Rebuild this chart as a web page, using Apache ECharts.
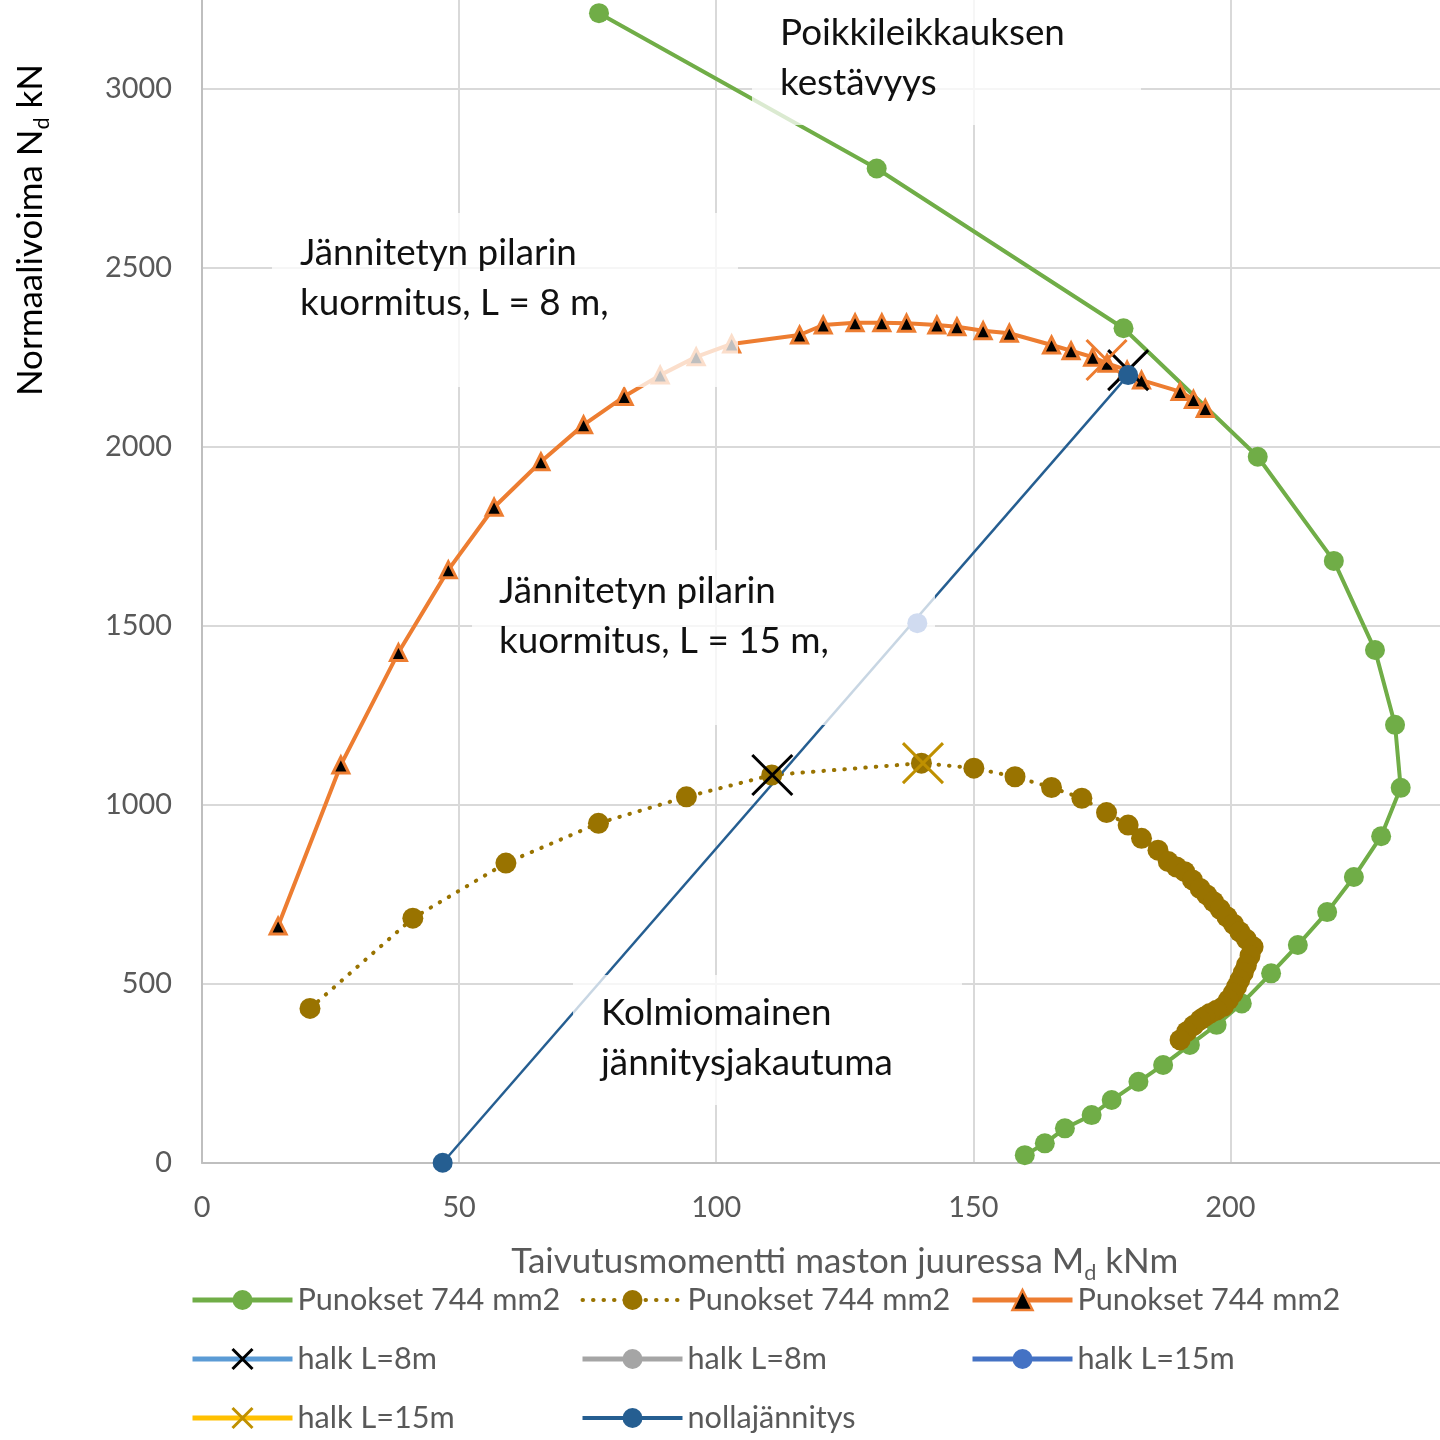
<!DOCTYPE html>
<html>
<head>
<meta charset="utf-8">
<script src="https://cdn.jsdelivr.net/npm/echarts@6/dist/echarts.min.js"></script>
<style>
  html, body { margin: 0; padding: 0; background: #ffffff; }
  #chart { width: 1440px; height: 1440px; }
</style>
</head>
<body>
<div id="chart"></div>
<script>
// Cross-section resistance curve (M, N)
const greenM = [77.2, 131.2, 179.2, 205.3, 220.1, 228.1, 232.0, 233.1, 229.3, 224.0, 218.8, 213.1, 207.9, 202.2, 197.3, 192.1, 186.9, 182.1, 176.9, 173.0, 167.8, 163.9, 160.0];
const greenN = [3211, 2777, 2331, 1972, 1681, 1432, 1223, 1047, 912, 798, 700, 608, 529, 445, 385, 329, 273, 226, 175, 133, 96, 54, 21];

// Prestressed column loading, L = 15 m
const brownM = [21.0, 41.0, 59.1, 77.1, 94.2, 110.8, 139.9, 150.1, 158.1, 165.2, 171.1, 175.9, 180.1, 182.7, 185.9, 187.9, 189.5, 191.1, 192.6, 194.1, 195.4, 196.7, 198.0, 199.3, 200.6, 201.8, 203.1, 204.4, 203.8, 203.1, 202.5, 201.8, 201.2, 200.5, 199.6, 198.6, 197.3, 196.0, 195.0, 194.1, 192.8, 191.5, 190.2];
const brownN = [431, 683, 837, 948, 1022, 1083, 1116, 1102, 1078, 1048, 1018, 978, 943, 906, 873, 841, 826, 813, 790, 766, 748, 729, 708, 687, 666, 645, 624, 603, 578, 552, 531, 510, 492, 473, 455, 436, 426, 417, 408, 399, 383, 366, 343];

// Prestressed column loading, L = 8 m
const orangeM = [14.8, 27.0, 38.2, 47.9, 56.8, 65.9, 74.2, 82.1, 89.1, 96.1, 103.0, 116.2, 120.8, 127.0, 132.2, 137.0, 142.9, 146.8, 151.9, 157.0, 165.2, 169.0, 173.2, 176.0, 179.9, 182.7, 190.2, 192.8, 195.1];
const orangeN = [661, 1111, 1425, 1656, 1831, 1958, 2061, 2140, 2200, 2251, 2287, 2312, 2340, 2346, 2346, 2345, 2340, 2335, 2324, 2317, 2284, 2268, 2250, 2233, 2214, 2186, 2154, 2132, 2107];

// Buckling points
const halk8M = [180.1, 110.9];
const halk8N = [2214, 1083];
const halk8GreyM = [];
const halk8GreyN = [];
const halk15BlueM = [139.1];
const halk15BlueN = [1507];
const halk15GoldM = [140.2];
const halk15GoldN = [1116];
const halk8OrangeM = [175.9];
const halk8OrangeN = [2242];

// Zero-stress line
const nollaM = [46.8, 180.1];
const nollaN = [0, 2200];

// Axis ticks
const xTicks = { min: 0, max: 250, step: 50 };
const yTicks = { min: 0, max: 3500, step: 500 };

const LABELS = {
  pA: 'Punokset 744 mm2',
  pB: 'Punokset 744 mm2',
  pC: 'Punokset 744 mm2',
  h8a: 'halk L=8m',
  h8b: 'halk L=8m',
  h15a: 'halk L=15m',
  h15b: 'halk L=15m',
  nolla: 'nollajännitys'
};

const FONT = 'Lato';
const meas = document.createElement('canvas').getContext('2d');
function fitSize(text, width) {
  meas.font = '100px ' + FONT;
  return 100 * width / meas.measureText(text).width;
}
const tickSize = fitSize('3000', 67);
const legendSize = fitSize('Punokset 744 mm2', 263);
const noteSize = fitSize('Poikkileikkauksen', 285);
const titleSize = fitSize('Taivutusmomentti maston juuressa M kNm', 655);

const GREY_TEXT = '#595959';
const X_PATH = 'path://M0,0L10,10M10,0L0,10';

function pts(xs, ys) { return xs.map((x, i) => [x, ys[i]]); }

const titleRich = {
  a: { fontSize: titleSize, fontFamily: FONT, color: GREY_TEXT, lineHeight: 44 },
  s: { fontSize: titleSize * 0.62, fontFamily: FONT, color: GREY_TEXT, lineHeight: 20, verticalAlign: 'bottom' }
};

const chart = echarts.init(document.getElementById('chart'), null, { renderer: 'canvas' });

const legendBase = {
  orient: 'vertical',
  top: 1278,
  height: 200,
  padding: 0,
  itemWidth: 100,
  itemHeight: 25,
  itemGap: 15,
  selectedMode: false,
  formatter: n => LABELS[n],
  textStyle: { fontSize: legendSize, color: GREY_TEXT, fontFamily: FONT, lineHeight: 44 },
  lineStyle: { width: 5 }
};

function note(x, y, text) {
  return {
    type: 'text', x: x, y: y, z: 51, silent: true,
    style: { text: text, fontSize: noteSize, fontFamily: FONT, fill: '#111111', lineHeight: 50, verticalAlign: 'top' }
  };
}
function veil(x, y, w, h) {
  return { type: 'rect', z: 50, silent: true, shape: { x: x, y: y, width: w, height: h }, style: { fill: 'rgba(255,255,255,0.75)' } };
}

const option = {
  animation: false,
  backgroundColor: '#ffffff',
  grid: { left: 202, right: -47.6, top: -90.3, bottom: 277.3, outerBoundsMode: 'none', containLabel: false },
  xAxis: {
    type: 'value', min: xTicks.min, max: xTicks.max, interval: xTicks.step,
    axisLine: { show: true, lineStyle: { color: '#bfbfbf', width: 2 } },
    axisTick: { show: false },
    splitLine: { show: true, lineStyle: { color: '#d9d9d9', width: 2 } },
    axisLabel: { fontSize: tickSize, color: GREY_TEXT, fontFamily: FONT, margin: 30, formatter: v => String(v) },
    name: '{a|Taivutusmomentti maston juuressa M}{s|d}{a| kNm}',
    nameLocation: 'middle', nameGap: 77,
    nameTextStyle: { rich: titleRich }
  },
  yAxis: {
    type: 'value', min: yTicks.min, max: yTicks.max, interval: yTicks.step,
    axisLine: { show: true, lineStyle: { color: '#bfbfbf', width: 2 } },
    axisTick: { show: false },
    splitLine: { show: true, lineStyle: { color: '#d9d9d9', width: 2 } },
    axisLabel: { fontSize: tickSize, color: GREY_TEXT, fontFamily: FONT, margin: 30, formatter: v => String(v) }
  },
  legend: [
    Object.assign({}, legendBase, { left: 190, data: [
      { name: 'pA' },
      { name: 'h8a', itemStyle: { borderWidth: 3 } },
      { name: 'h15b', itemStyle: { borderWidth: 3 } }
    ] }),
    Object.assign({}, legendBase, { left: 580, data: [
      { name: 'pB', lineStyle: { width: 4 } },
      { name: 'h8b' },
      { name: 'nolla', lineStyle: { width: 4 } }
    ] }),
    Object.assign({}, legendBase, { left: 970, data: [
      { name: 'pC', itemStyle: { borderWidth: 2.5 } },
      { name: 'h15a' }
    ] })
  ],
  graphic: [
    veil(752, -10, 389, 135),
    veil(272, 213, 466, 174),
    veil(472, 550, 463, 175),
    veil(573, 975, 389, 130),
    note(780, 8, 'Poikkileikkauksen\nkestävyys'),
    note(300, 228, 'Jännitetyn pilarin\nkuormitus, L = 8 m,'),
    note(499, 566, 'Jännitetyn pilarin\nkuormitus, L = 15 m,'),
    note(601, 988, 'Kolmiomainen\njännitysjakautuma'),
    {
      type: 'text', x: 31, y: 230, rotation: Math.PI / 2, z: 51, silent: true,
      style: {
        text: '{a|Normaalivoima N}{s|d}{a| kN}',
        rich: titleRich,
        align: 'center', verticalAlign: 'middle'
      }
    }
  ],
  series: [
    {
      name: 'pA', type: 'line', data: pts(greenM, greenN),
      symbol: 'circle', symbolSize: 20,
      itemStyle: { color: '#70AD47' },
      lineStyle: { color: '#70AD47', width: 4 }
    },
    {
      name: 'pB', type: 'line', data: pts(brownM, brownN),
      symbol: 'circle', symbolSize: 21,
      itemStyle: { color: '#997300' },
      lineStyle: { color: '#997300', width: 4, type: [0.5, 10], cap: 'round' }
    },
    {
      name: 'pC', type: 'line', data: pts(orangeM, orangeN),
      symbol: 'triangle', symbolSize: 16,
      itemStyle: { color: '#000000', borderColor: '#ED7D31', borderWidth: 3 },
      lineStyle: { color: '#ED7D31', width: 4 }
    },
    {
      name: 'h8a', type: 'line', data: pts(halk8M.slice(0, 1), halk8N.slice(0, 1)),
      symbol: X_PATH, symbolSize: 40,
      itemStyle: { color: 'rgba(0,0,0,0)', borderColor: '#000000', borderWidth: 3 },
      lineStyle: { color: '#5B9BD5', width: 4 }
    },
    {
      name: 'h8a', type: 'line', data: pts(halk8M.slice(1), halk8N.slice(1)),
      symbol: X_PATH, symbolSize: 40,
      itemStyle: { color: 'rgba(0,0,0,0)', borderColor: '#000000', borderWidth: 3 },
      lineStyle: { color: '#5B9BD5', width: 4 }
    },
    {
      name: 'h8b', type: 'line', data: pts(halk8GreyM, halk8GreyN),
      symbol: 'circle', symbolSize: 20,
      itemStyle: { color: '#A5A5A5' },
      lineStyle: { color: '#A5A5A5', width: 4 }
    },
    {
      name: 'h15a', type: 'line', data: pts(halk15BlueM, halk15BlueN),
      symbol: 'circle', symbolSize: 20,
      itemStyle: { color: '#4472C4' },
      lineStyle: { color: '#4472C4', width: 4 }
    },
    {
      name: 'h15b', type: 'line', data: pts(halk15GoldM, halk15GoldN),
      symbol: X_PATH, symbolSize: 40,
      itemStyle: { color: 'rgba(0,0,0,0)', borderColor: '#BF9000', borderWidth: 3 },
      lineStyle: { color: '#FFC000', width: 4 }
    },
    {
      name: 'h8c', type: 'line', data: pts(halk8OrangeM, halk8OrangeN),
      symbol: X_PATH, symbolSize: 40,
      itemStyle: { color: 'rgba(0,0,0,0)', borderColor: '#ED7D31', borderWidth: 3 },
      lineStyle: { color: '#ED7D31', width: 3 }
    },
    {
      name: 'nolla', type: 'line', data: pts(nollaM, nollaN),
      symbol: 'circle', symbolSize: 20,
      itemStyle: { color: '#255E91' },
      lineStyle: { color: '#255E91', width: 2.5 }
    }
  ]
};

chart.setOption(option);
</script>
</body>
</html>
